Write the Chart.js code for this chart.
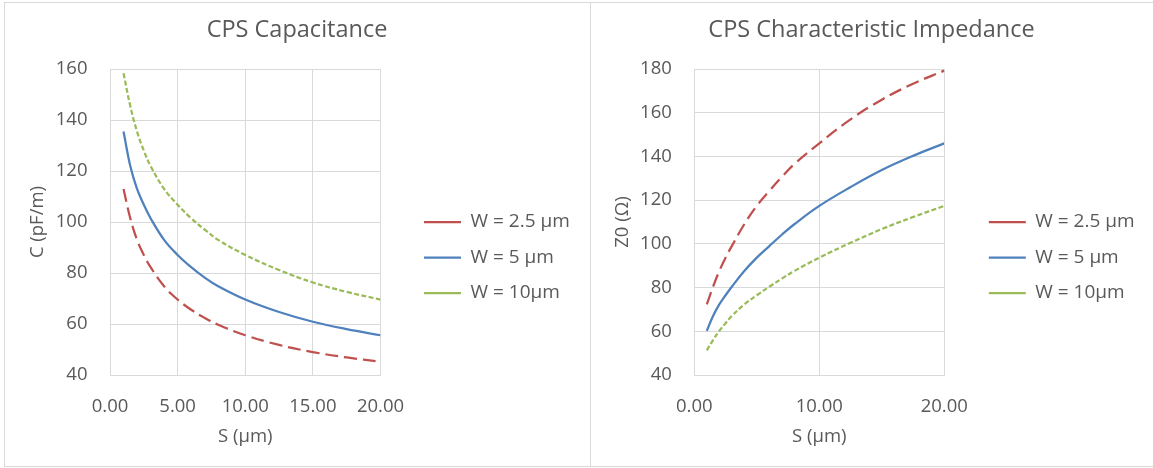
<!DOCTYPE html>
<html><head><meta charset="utf-8">
<script src="https://cdn.jsdelivr.net/npm/chart.js@4.4.1/dist/chart.umd.min.js"></script>
<style>
html,body{margin:0;padding:0;background:#fff;width:1153px;height:468px;overflow:hidden;}
.panel{position:absolute;border:1px solid #D9D9D9;box-sizing:border-box;}
canvas{position:absolute;}
</style></head><body>
<div class="panel" style="left:4px;top:2px;width:587px;height:465px"></div>
<div class="panel" style="left:590px;top:2px;width:600px;height:465px"></div>
<canvas id="c1" width="586" height="464" style="left:4px;top:2px"></canvas>
<canvas id="c2" width="563" height="464" style="left:590px;top:2px"></canvas>
<script>
// ---- data ----
const seriesLabels = ['W = 2.5 µm', 'W = 5 µm', 'W = 10µm'];
const sValues = [1, 1.5, 2, 2.5, 3, 4, 5, 6, 7, 8, 10, 12.5, 15, 17.5, 20];
// Capacitance C (pF/m)
const capW25 = [113, 101.5, 93, 87.1, 82.3, 74.8, 69.6, 65.6, 62.4, 59.7, 55.6, 51.8, 49, 46.9, 45.2];
const capW5  = [135.5, 122, 113, 106.8, 101.5, 93, 87.1, 82.3, 78.2, 74.8, 69.6, 64.7, 60.9, 58, 55.6];
const capW10 = [158.4, 145.5, 135.5, 128, 122, 113, 106.8, 101.5, 97, 93, 87.1, 81.2, 76.3, 72.6, 69.6];
// Characteristic impedance Z0 (ohm)
const z0W25 = [72.3, 80.4, 87.6, 93.7, 99, 109, 117.4, 124.2, 130.6, 136.5, 146, 157, 166, 173.3, 179.3];
const z0W5  = [60.2, 67, 72.3, 76.5, 80.4, 87.6, 93.7, 99, 104.2, 109, 117.4, 126, 133.8, 140.3, 146];
const z0W10 = [51.3, 56, 60.2, 63.7, 67, 72.3, 76.5, 80.4, 84.1, 87.6, 93.7, 100.5, 106.8, 112.3, 117.4];
// axis ticks
const capTicks = {min: 40, max: 160, step: 20};
const z0Ticks = {min: 40, max: 180, step: 20};
const capXTicks = {min: 0, max: 20, step: 5};
const z0XTicks = {min: 0, max: 20, step: 10};

// ---- styles ----
const TXT = '#595959';
const GRID = '#D9D9D9';
const FONT = '"Open Sans", sans-serif';
const seriesStyles = [
  {borderColor: '#C0504D', borderDash: [13, 6]},
  {borderColor: '#4F81BD', borderDash: []},
  {borderColor: '#9BBB59', borderDash: [5, 2.5]}
];

const legendPlacer = {
  id: 'legendPlacer',
  beforeLayout(chart, args, opts) {
    const lg = chart.legend;
    if (lg && !lg.__fixed) {
      const fit = lg.fit.bind(lg);
      lg.fit = function () { fit(); this.width = opts.width; };
      lg.__fixed = true;
    }
  },
  afterLayout(chart, args, opts) {
    const lg = chart.legend;
    lg.left += opts.dx; lg.right += opts.dx;
    lg.top += opts.dy; lg.bottom += opts.dy;
  }
};

function makeDatasets(arrs) {
  return arrs.map((arr, i) => ({
    label: seriesLabels[i],
    data: sValues.map((s, j) => ({x: s, y: arr[j]})),
    borderColor: seriesStyles[i].borderColor,
    backgroundColor: seriesStyles[i].borderColor,
    borderDash: seriesStyles[i].borderDash,
    borderWidth: 2.25,
    pointRadius: 0,
    tension: 0.4,
    fill: false
  }));
}

function makeChart(id, cfg) {
  return new Chart(document.getElementById(id), {
    type: 'line',
    data: {datasets: makeDatasets(cfg.series)},
    plugins: [legendPlacer],
    options: {
      responsive: false,
      animation: false,
      events: [],
      layout: {padding: 0},
      plugins: {
        tooltip: {enabled: false},
        title: {
          display: true, text: cfg.title, color: TXT,
          font: {family: FONT, size: 23.5, weight: 'normal', lineHeight: 1.2},
          padding: {top: 13.9, bottom: 25}
        },
        legend: {
          position: 'right',
          labels: {
            usePointStyle: true, pointStyle: 'line', pointStyleWidth: 37,
            padding: 16.5, color: TXT,
            font: {family: FONT, size: 19}
          }
        },
        legendPlacer: cfg.legend
      },
      scales: {
        x: {
          type: 'linear', min: cfg.xt.min, max: cfg.xt.max,
          afterFit(s) { s.height = 91; },
          ticks: {stepSize: cfg.xt.step, color: TXT, padding: 21, maxRotation: 0,
                  font: {family: FONT, size: 18.5},
                  callback: v => Number(v).toFixed(2)},
          grid: {color: GRID, lineWidth: 1, drawTicks: false},
          border: {color: GRID, width: 1},
          title: {display: true, text: 'S (µm)', color: TXT,
                  font: {family: FONT, size: 18.5}, padding: {top: 0, bottom: 18}}
        },
        y: {
          min: cfg.yt.min, max: cfg.yt.max,
          afterFit(s) { s.width = cfg.yWidth; },
          ticks: {stepSize: cfg.yt.step, color: TXT, padding: 22.5,
                  font: {family: FONT, size: 18.5}},
          grid: {color: GRID, lineWidth: 1, drawTicks: false},
          border: {color: GRID, width: 1},
          title: {display: true, text: cfg.yTitle, color: TXT,
                  font: {family: FONT, size: 18.5}, padding: {top: cfg.yTitlePad, bottom: 0}}
        }
      }
    }
  });
}

makeChart('c1', {
  title: 'CPS Capacitance', yTitle: 'C (pF/m)',
  series: [capW25, capW5, capW10],
  xt: capXTicks, yt: capTicks, yWidth: 106, yTitlePad: 23,
  legend: {width: 209.5, dx: 27, dy: 23.5}
});
makeChart('c2', {
  title: 'CPS Characteristic Impedance', yTitle: 'Z0 (Ω)',
  series: [z0W25, z0W5, z0W10],
  xt: z0XTicks, yt: z0Ticks, yWidth: 104.3, yTitlePad: 22,
  legend: {width: 208.7, dx: 28, dy: 23.5}
});
</script>
</body></html>
